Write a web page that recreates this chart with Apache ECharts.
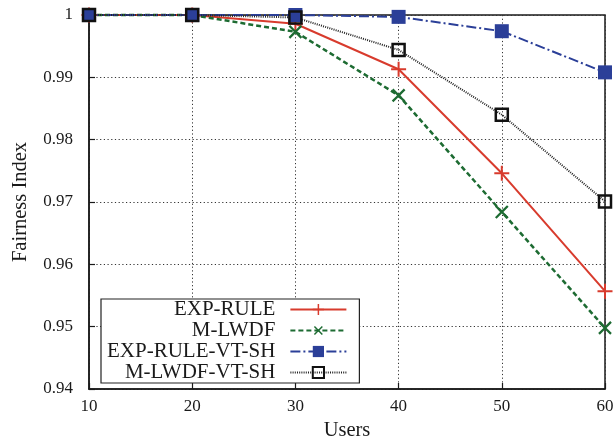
<!DOCTYPE html>
<html>
<head>
<meta charset="utf-8">
<script src="https://cdn.jsdelivr.net/npm/echarts@6/dist/echarts.min.js"></script>
<style>
html,body{margin:0;padding:0;background:#fff;}
#c{width:615px;height:443px;}
</style>
</head>
<body>
<div id="c"></div>
<script>
const users = [10, 20, 30, 40, 50, 60];
const expRule = [1, 1, 0.9986, 0.9913, 0.9746, 0.9557];
const mLwdf = [1, 1, 0.9973, 0.9871, 0.9684, 0.9498];
const expRuleVtSh = [1, 1, 1, 0.9997, 0.9974, 0.9908];
const mLwdfVtSh = [1, 1, 0.9996, 0.9944, 0.9840, 0.9701];
const seriesNames = ['EXP-RULE', 'M-LWDF', 'EXP-RULE-VT-SH', 'M-LWDF-VT-SH'];

const FONT = 'Liberation Serif';
const plusPath = 'path://M13,0H17V13H30V17H17V30H13V17H0V13H13Z';
const crossPath = 'path://M13,0H17V13H30V17H17V30H13V17H0V13H13Z';

const pairs = arr => users.map((u, i) => [u, arr[i]]);
const tickStyle = {fontFamily: FONT, fontSize: 17, color: '#1a1a1a'};

const chart = echarts.init(document.getElementById('c'), null, {renderer: 'canvas'});
chart.setOption({
  animation: false,
  backgroundColor: '#fff',
  textStyle: {fontFamily: FONT, fontSize: 17, color: '#1a1a1a'},
  grid: {left: 89, right: 10, top: 15, bottom: 54, outerBoundsMode: 'none', containLabel: false,
    show: true, borderColor: '#1a1a1a', borderWidth: 1.5, backgroundColor: 'transparent'},
  legend: {
    orient: 'vertical',
    left: 101, top: 299,
    align: 'right',
    itemWidth: 56, itemHeight: 14, itemGap: 0,
    backgroundColor: '#fff',
    borderColor: '#222', borderWidth: 1.2, borderRadius: 0,
    padding: [0, 12, 0, 6],
    textStyle: {fontFamily: FONT, fontSize: 21, lineHeight: 19, color: '#1a1a1a', padding: [0, 10, 0, 0]},
    data: seriesNames
  },
  xAxis: {
    type: 'value', min: 10, max: 60, interval: 10,
    name: 'Users', nameLocation: 'middle', nameGap: 25,
    nameTextStyle: {fontFamily: FONT, fontSize: 20.5, color: '#1a1a1a'},
    axisLine: {show: true, lineStyle: {color: '#1a1a1a', width: 1.5}},
    axisTick: {show: true, inside: true, length: 6, lineStyle: {color: '#1a1a1a', width: 1.2}},
    axisLabel: Object.assign({margin: 9}, tickStyle),
    splitLine: {show: true, lineStyle: {color: '#333', type: [1.2, 2.5], width: 1}}
  },
  yAxis: {
    type: 'value', min: 0.94, max: 1, interval: 0.01,
    name: 'Fairness Index', nameLocation: 'middle', nameGap: 58,
    nameTextStyle: {fontFamily: FONT, fontSize: 20.5, color: '#1a1a1a'},
    axisLine: {show: true, lineStyle: {color: '#1a1a1a', width: 1.5}},
    axisTick: {show: true, inside: true, length: 6, lineStyle: {color: '#1a1a1a', width: 1.2}},
    axisLabel: Object.assign({margin: 16,
      formatter: v => (Math.abs(v - 1) < 1e-9 ? '1' : v.toFixed(2))}, tickStyle),
    splitLine: {show: true, lineStyle: {color: '#333', type: [1.2, 2.5], width: 1}}
  },
  series: [
    {
      name: seriesNames[0], type: 'line', data: pairs(expRule), clip: false,
      symbol: plusPath, symbolSize: 15,
      lineStyle: {color: '#d83b2d', width: 2, type: 'solid'},
      itemStyle: {color: '#d83b2d'}
    },
    {
      name: seriesNames[1], type: 'line', data: pairs(mLwdf), clip: false,
      symbol: crossPath, symbolSize: 17, symbolRotate: 45,
      lineStyle: {color: '#1d6b32', width: 2.5, type: [5, 3]},
      itemStyle: {color: '#1d6b32'}
    },
    {
      name: seriesNames[2], type: 'line', data: pairs(expRuleVtSh), clip: false,
      symbol: 'rect', symbolSize: 14,
      lineStyle: {color: '#2b3f98', width: 2, type: [10, 3, 2, 3]},
      itemStyle: {color: '#2b3f98'}
    },
    {
      name: seriesNames[3], type: 'line', data: pairs(mLwdfVtSh), clip: false,
      symbol: 'rect', symbolSize: 12,
      lineStyle: {color: '#222', width: 2, type: [1, 1.2]},
      itemStyle: {color: 'rgba(0,0,0,0)', borderColor: '#111', borderWidth: 2.5}
    }
  ]
});
</script>
</body>
</html>
